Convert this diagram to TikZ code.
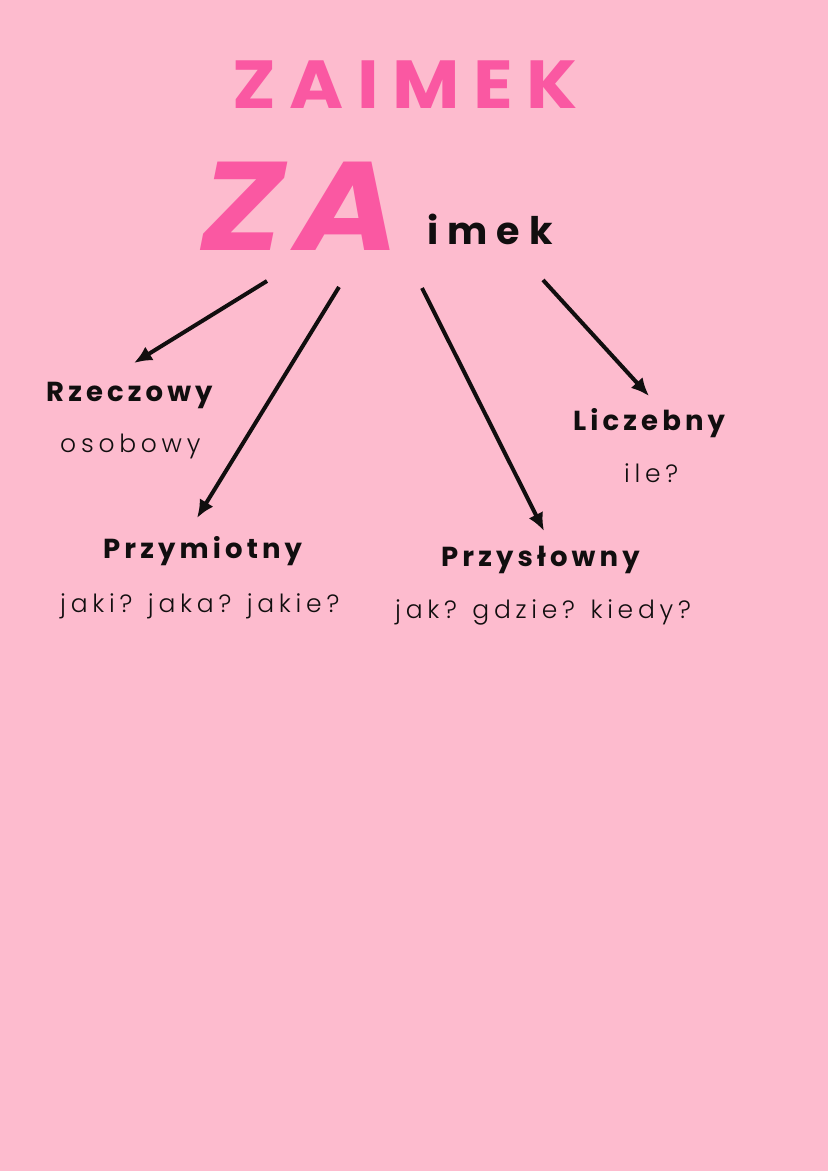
\documentclass[tikz,border=0pt]{standalone}
\usepackage{fontspec}
\setmainfont{Poppins}
\newfontfamily\lightfont{Poppins Light}
\usetikzlibrary{arrows.meta}
\definecolor{bgpink}{RGB}{253,187,206}
\definecolor{hotpink}{RGB}{250,88,162}
\definecolor{ink}{RGB}{17,14,15}
\tikzset{
  head/.style={font=\fontsize{27.5}{30}\selectfont\bfseries\addfontfeatures{LetterSpace=15}, text=ink, inner sep=0pt, anchor=base west},
  sub/.style={font=\lightfont\fontsize{25}{30}\selectfont\addfontfeatures{LetterSpace=19}, text=ink, inner sep=0pt, anchor=base west},
  arr/.style={-{Latex[length=18pt,width=16pt]}, line width=4pt, draw=ink}
}
\begin{document}
\begin{tikzpicture}[x=1pt,y=-1pt]
\fill[bgpink] (0,0) rectangle (828,1171);
\useasboundingbox (0,0) rectangle (828,1171);
\node[font=\fontsize{68}{70}\selectfont\bfseries\addfontfeatures{FakeStretch=1.08,LetterSpace=20}, text=hotpink, inner sep=0pt, anchor=base west] (title) at (232,108) {ZAIMEK};
\node[font=\fontsize{126}{130}\selectfont\bfseries\itshape\addfontfeatures{FakeStretch=1.12,LetterSpace=9}, text=hotpink, inner sep=0pt, anchor=base west] (za) at (200,250) {ZA};
\node[font=\fontsize{38}{40}\selectfont\bfseries\addfontfeatures{LetterSpace=24}, text=ink, inner sep=0pt, anchor=base west] (imek) at (427,244) {imek};
\node[head] (rz) at (46,401) {Rzeczowy};
\node[sub] (rzs) at (60,452) {osobowy};
\node[head] (pm) at (103,558) {Przymiotny};
\node[sub] (pms) at (60,612) {jaki? jaka? jakie?};
\node[head] (lc) at (573,430) {Liczebny};
\node[sub] (lcs) at (624,482) {ile?};
\node[head] (ps) at (441,566) {Przysłowny};
\node[sub] (pss) at (395,618) {jak? gdzie? kiedy?};
\coordinate (s1) at (267,281); \coordinate (e1) at (134,363);
\coordinate (s2) at (339,287); \coordinate (e2) at (197,518);
\coordinate (s3) at (422,288); \coordinate (e3) at (544,531);
\coordinate (s4) at (543,280); \coordinate (e4) at (649,396);
\draw[arr] (s1) -- (e1);
\draw[arr] (s2) -- (e2);
\draw[arr] (s3) -- (e3);
\draw[arr] (s4) -- (e4);
\end{tikzpicture}
\end{document}
